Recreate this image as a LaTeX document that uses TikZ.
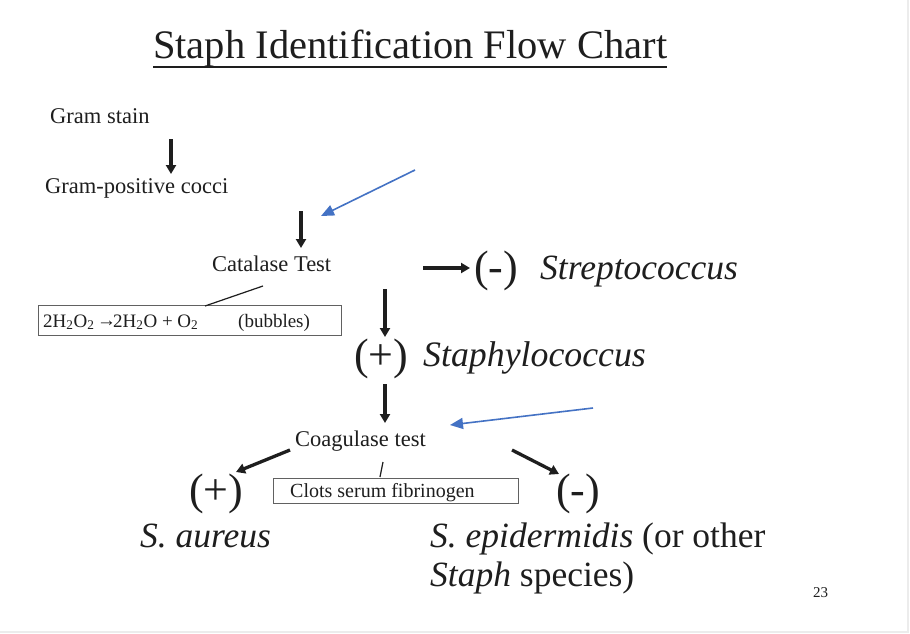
\documentclass[tikz,border=0pt]{standalone}
\usepackage{fontspec}
\setmainfont{Liberation Serif}
\usetikzlibrary{arrows.meta}
\definecolor{callout}{RGB}{68,114,196}
\definecolor{ink}{RGB}{30,30,30}
\tikzset{
  lbl/.style={inner sep=0pt, anchor=base west, text=ink},
  flow/.style={line width=3.3pt, draw=ink, -{Triangle[length=9pt,width=10pt]}},
  note/.style={draw=ink!70, line width=1pt},
  leader/.style={draw=ink, line width=1.2pt},
  pointer/.style={draw=callout, line width=1.6pt, -{Triangle[length=13pt,width=11pt]}},
}
\begin{document}
\begin{tikzpicture}[x=1pt,y=-1pt]
\useasboundingbox (0,0) rectangle (910,634);
\fill[white] (0,0) rectangle (910,634);
\draw[gray!15, line width=1.5pt] (908,0) -- (908,632) -- (0,632);

% title
\node[lbl, font=\fontsize{40.5}{44}\selectfont] (title) at (153,59) {Staph Identification Flow Chart};
\draw[ink, line width=1.8pt] (title.base west) ++(0,8) coordinate (ul1) -- (title.base east |- ul1);

% first steps
\node[lbl, font=\fontsize{22.5}{26}\selectfont] (gram) at (50,123) {Gram stain};
\node[lbl, font=\fontsize{22.5}{26}\selectfont] (gpc) at (45,193) {Gram-positive cocci};
\coordinate (a1s) at (171,139); \coordinate (a1e) at (171,174);
\draw[flow] (a1s) -- (a1e);

\coordinate (a2s) at (301,211); \coordinate (a2e) at (301,248);
\draw[flow] (a2s) -- (a2e);
\node[lbl, font=\fontsize{22.5}{26}\selectfont] (cat) at (212,271) {Catalase Test};

% negative catalase
\coordinate (a3s) at (423,268); \coordinate (a3e) at (470,268);
\draw[flow] (a3s) -- (a3e);
\node[lbl, font=\fontsize{44}{48}\selectfont] (neg1) at (474,281) {(-)};
\node[lbl, font=\fontsize{35.5}{40}\selectfont\itshape] (strep) at (540,279) {Streptococcus};

% catalase reaction box
\node[note, anchor=north west, minimum width=303pt, minimum height=30pt, inner sep=0pt] (box1) at (38,305) {};
\node[lbl, font=\fontsize{19}{22}\selectfont] (eq) at (43,327) {2H\textsubscript{2}O\textsubscript{2} \kern-2pt\raisebox{1pt}{\textbf{→}}\kern-3pt 2H\textsubscript{2}O + O\textsubscript{2}};
\node[lbl, font=\fontsize{19}{22}\selectfont] (bub) at (238,327) {(bubbles)};
\coordinate (l1s) at (205,306); \coordinate (l1e) at (263,286);
\draw[leader] (l1s) -- (l1e);

% positive catalase
\coordinate (a4s) at (385,289); \coordinate (a4e) at (385,337);
\draw[flow] (a4s) -- (a4e);
\node[lbl, font=\fontsize{44}{48}\selectfont] (pos1) at (354,369) {(+)};
\node[lbl, font=\fontsize{35.8}{40}\selectfont\itshape] (staph) at (423,366) {Staphylococcus};

\coordinate (a5s) at (385,384); \coordinate (a5e) at (385,423);
\draw[flow] (a5s) -- (a5e);
\node[lbl, font=\fontsize{22.5}{26}\selectfont] (coag) at (295,446) {Coagulase test};

% coagulase branches
\coordinate (a6s) at (290,450); \coordinate (a6e) at (236,472);
\draw[flow] (a6s) -- (a6e);
\coordinate (a7s) at (512,450); \coordinate (a7e) at (559,474);
\draw[flow] (a7s) -- (a7e);
\node[lbl, font=\fontsize{44}{48}\selectfont] (pos2) at (189,504) {(+)};
\node[lbl, font=\fontsize{44}{48}\selectfont] (neg2) at (556,504) {(-)};

\node[note, anchor=north west, minimum width=245pt, minimum height=25pt, inner sep=0pt] (box2) at (273,478) {};
\node[lbl, font=\fontsize{20}{24}\selectfont] (clots) at (290,497) {Clots serum fibrinogen};
\coordinate (l2s) at (380,477); \coordinate (l2e) at (383,462);
\draw[leader] (l2s) -- (l2e);

% results
\node[lbl, font=\fontsize{35.5}{40}\selectfont\itshape] (aureus) at (140,547) {S. aureus};
\node[lbl, font=\fontsize{35.5}{40}\selectfont] (epi) at (430,547) {\textit{S. epidermidis} (or other};
\node[lbl, font=\fontsize{35.5}{40}\selectfont] (spp) at (430,586) {\textit{Staph} species)};

\node[lbl, font=\fontsize{15}{18}\selectfont] (pg) at (813,597) {23};

% blue callout arrows
\coordinate (b1s) at (415,170); \coordinate (b1e) at (321,216);
\draw[pointer] (b1s) -- (b1e);
\coordinate (b2s) at (593,408); \coordinate (b2e) at (450,425);
\draw[pointer] (b2s) -- (b2e);
\end{tikzpicture}
\end{document}
